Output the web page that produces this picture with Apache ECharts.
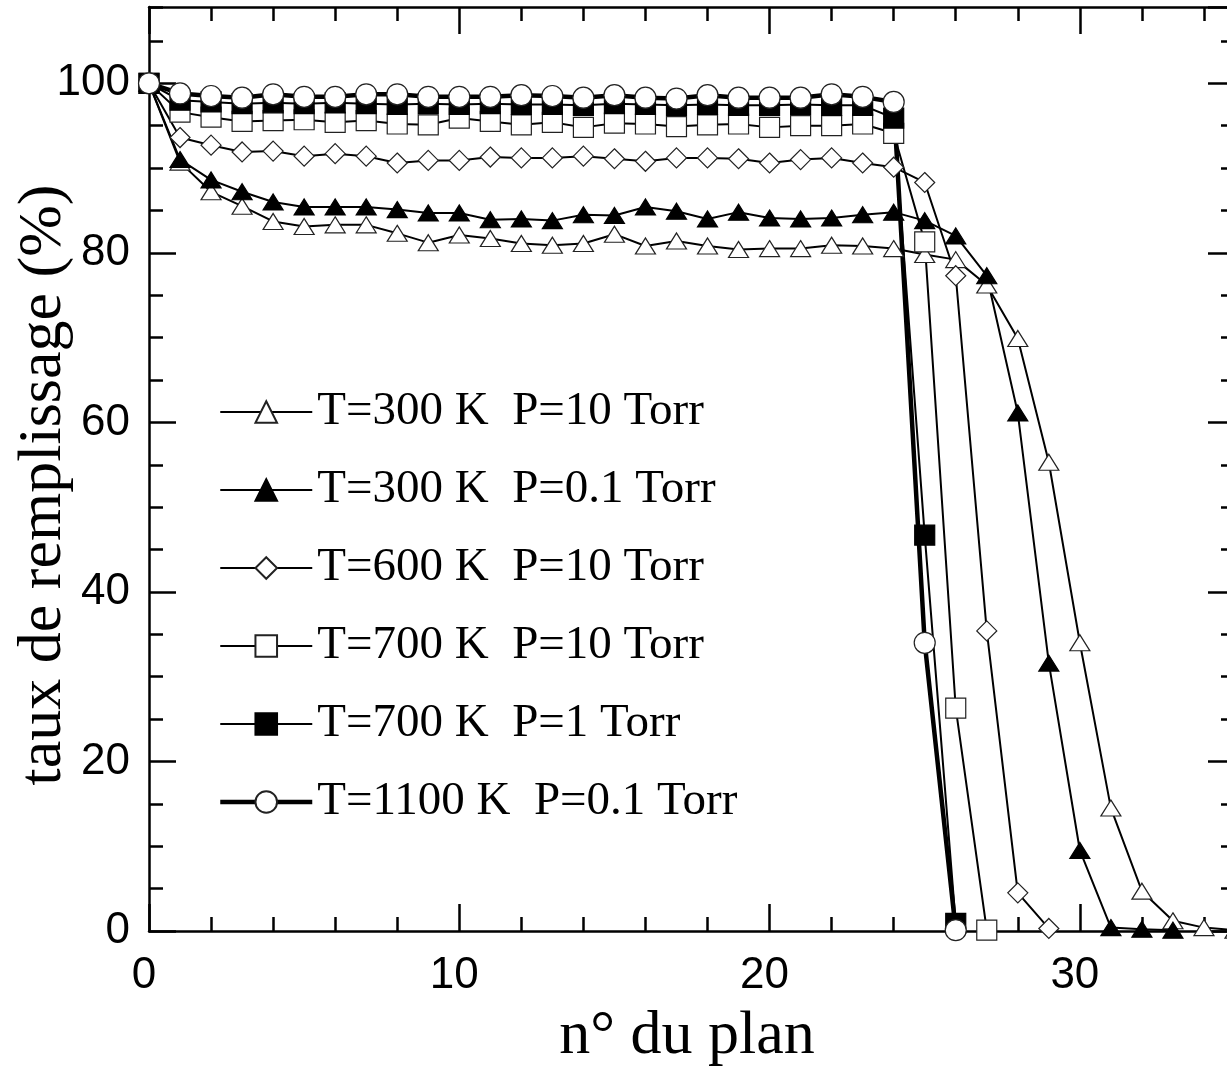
<!DOCTYPE html>
<html>
<head>
<meta charset="utf-8">
<script src="https://cdn.jsdelivr.net/npm/echarts@6/dist/echarts.min.js"></script>
<style>
html,body{margin:0;padding:0;background:#fff;}
#chart{width:1227px;height:1074px;}
</style>
</head>
<body>
<div id="chart"></div>
<script>
// Plane numbers (x)
const planes = [0,1,2,3,4,5,6,7,8,9,10,11,12,13,14,15,16,17,18,19,20,21,22,23,24,25,26,27,28,29,30,31,32,33,34,35];

// Series names
const names = [
  'T=300 K  P=10 Torr',
  'T=300 K  P=0.1 Torr',
  'T=600 K  P=10 Torr',
  'T=700 K  P=10 Torr',
  'T=700 K  P=1 Torr',
  'T=1100 K  P=0.1 Torr'
];

// Filling rate (%) per plane, starting at plane 0
const t300p10 = [100, 90.7, 87.2, 85.5, 83.7, 83.1, 83.3, 83.3, 82.3, 81.2, 82.1, 81.7, 81.1, 80.9, 81.1, 82.2, 80.8, 81.4, 80.8, 80.4, 80.5, 80.5, 80.9, 80.8, 80.5, 79.8, 79.2, 76.2, 69.9, 55.3, 34.0, 14.5, 4.7, 1.2, 0.4, 0.1];
const t300p01 = [100, 91.0, 88.6, 87.2, 86.0, 85.4, 85.4, 85.4, 85.1, 84.7, 84.7, 83.9, 84.0, 83.8, 84.5, 84.4, 85.4, 84.9, 84.0, 84.8, 84.1, 84.0, 84.1, 84.5, 84.8, 83.8, 82.0, 77.3, 61.1, 31.6, 9.5, 0.4, 0.2, 0.1];
const t600p10 = [100, 93.6, 92.7, 91.9, 92.0, 91.4, 91.7, 91.4, 90.6, 90.9, 90.9, 91.3, 91.2, 91.2, 91.4, 91.1, 90.8, 91.2, 91.2, 91.1, 90.6, 91.0, 91.2, 90.6, 90.1, 88.3, 77.3, 35.4, 4.5, 0.3];
const t700p10 = [100, 96.6, 96.0, 95.5, 95.6, 95.7, 95.4, 95.6, 95.2, 95.1, 95.9, 95.5, 95.1, 95.4, 94.8, 95.3, 95.2, 94.9, 95.1, 95.2, 94.8, 95.0, 95.0, 95.2, 94.1, 81.3, 26.3, 0.1];
const t700p1 = [100, 98.0, 97.8, 97.6, 97.7, 97.6, 97.7, 97.6, 97.5, 97.6, 97.5, 97.6, 97.5, 97.5, 97.4, 97.6, 97.5, 97.4, 97.5, 97.4, 97.4, 97.5, 97.4, 97.4, 95.9, 46.7, 0.9];
const t1100p01 = [100, 98.8, 98.5, 98.3, 98.7, 98.4, 98.4, 98.7, 98.7, 98.4, 98.4, 98.4, 98.6, 98.5, 98.3, 98.6, 98.3, 98.2, 98.6, 98.3, 98.3, 98.3, 98.7, 98.4, 97.8, 34.0, 0.1];

const xTitle = 'n° du plan';
const yTitle = 'taux de remplissage (%)';

const SANS = "'Liberation Sans', Arial, sans-serif";
const SERIF = "'Liberation Serif', 'Times New Roman', serif";

function pairs(vals) { return vals.map((v, i) => [planes[i], v]); }

const black = '#000';
const axisLW = 2.5;
const lineWidths = [2, 2, 2, 2, 2, 4.5];

function xAxisDef(pos, major) {
  return {
    type: 'value', position: pos, min: 0, max: 35, interval: major ? 10 : 2,
    axisLine: { show: major, onZero: false, lineStyle: { color: black, width: axisLW } },
    axisTick: { show: true, inside: true, length: major ? 27 : 14, lineStyle: { color: black, width: axisLW } },
    axisLabel: { show: false },
    splitLine: { show: false }
  };
}
function yAxisDef(pos, major) {
  return {
    type: 'value', position: pos, min: 0, max: 109, interval: major ? 20 : 5,
    axisLine: { show: major, onZero: false, lineStyle: { color: black, width: axisLW } },
    axisTick: { show: true, inside: true, length: major ? 27 : 14, lineStyle: { color: black, width: axisLW } },
    axisLabel: { show: false },
    splitLine: { show: false }
  };
}

const xMain = xAxisDef('bottom', true);
xMain.axisLabel = { show: true, fontSize: 44, fontFamily: SANS, color: black, margin: 23, showMaxLabel: false, padding: [0, 10, 0, 0] };
xMain.name = xTitle;
xMain.nameLocation = 'middle';
xMain.nameGap = 75;
xMain.nameMoveOverlap = false;
xMain.nameTextStyle = { fontSize: 62, fontFamily: SERIF, color: black, lineHeight: 62, padding: [0, 10, 0, 0] };

const yMain = yAxisDef('left', true);
yMain.axisLabel = { show: true, fontSize: 44, fontFamily: SANS, color: black, margin: 19, showMaxLabel: false };
yMain.name = yTitle;
yMain.nameLocation = 'middle';
yMain.nameGap = 74;
yMain.nameMoveOverlap = false;
yMain.nameTextStyle = { fontSize: 62, fontFamily: SERIF, color: black, lineHeight: 62, padding: [0, 32, 0, 0] };

function lineSeries(name, vals, symbol, size, filled, lw) {
  return {
    name: name, type: 'line', xAxisIndex: 0, yAxisIndex: 0,
    data: pairs(vals),
    symbol: symbol, symbolSize: size, showSymbol: true,
    lineStyle: { color: black, width: lw },
    itemStyle: { color: filled ? black : '#fff', borderColor: filled ? black : '#222', borderWidth: 1.2 },
    emphasis: { disabled: true },
    animation: false
  };
}

const option = {
  backgroundColor: '#fff',
  animation: false,
  grid: { left: 149, top: 7, width: 1086, height: 924, containLabel: false, outerBoundsMode: 'none' },
  xAxis: [xMain, xAxisDef('bottom', false), xAxisDef('top', true), xAxisDef('top', false)],
  yAxis: [yMain, yAxisDef('left', false), yAxisDef('right', true), yAxisDef('right', false)],
  legend: {
    orient: 'vertical', left: 213, top: 382,
    itemWidth: 92, itemHeight: 27, itemGap: 28,
    selectedMode: false,
    textStyle: { fontSize: 47, fontFamily: SERIF, color: black, lineHeight: 50, padding: [0, 0, 0, 0] },
    data: names.map((n, i) => ({ name: n, lineStyle: { color: black, width: lineWidths[i] } }))
  },
  series: [
    lineSeries(names[0], t300p10, 'triangle', [20, 16], false, lineWidths[0]),
    lineSeries(names[1], t300p01, 'triangle', [20, 16], true, lineWidths[1]),
    lineSeries(names[2], t600p10, 'diamond', 20, false, lineWidths[2]),
    lineSeries(names[3], t700p10, 'rect', 20, false, lineWidths[3]),
    lineSeries(names[4], t700p1, 'rect', 20, true, lineWidths[4]),
    lineSeries(names[5], t1100p01, 'circle', 21, false, lineWidths[5])
  ]
};

const chart = echarts.init(document.getElementById('chart'), null, { renderer: 'canvas' });
chart.setOption(option);
</script>
</body>
</html>
